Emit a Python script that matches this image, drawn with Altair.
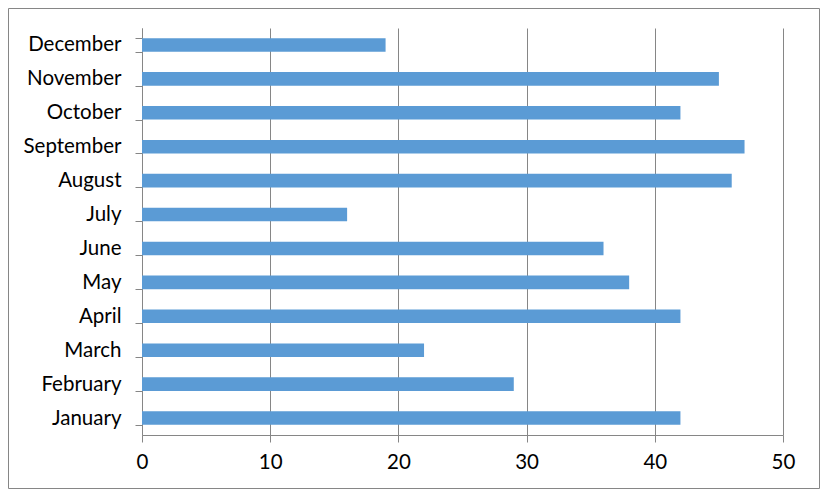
import altair as alt
import pandas as pd

months = ["January", "February", "March", "April", "May", "June",
          "July", "August", "September", "October", "November", "December"]
values = [42, 29, 22, 42, 38, 36, 16, 46, 47, 42, 45, 19]

df = pd.DataFrame({"month": months, "value": values})

W, H = 641, 407
PL, PT, PR, PB = 134, 20, 37, 54

grey = "#868686"
font = "Lato"
fs = 20.5

bars = alt.Chart(df).mark_bar(color="#5B9BD5").encode(
    x=alt.X("value:Q",
            scale=alt.Scale(domain=[0, 50], nice=False),
            axis=alt.Axis(values=[0, 10, 20, 30, 40, 50], title=None,
                          grid=True, gridColor=grey, gridWidth=1,
                          domainColor=grey, tickColor=grey, tickSize=7,
                          labelFont=font, labelFontSize=fs, labelColor="#000",
                          labelFlush=False, labelPadding=10)),
    y=alt.Y("month:N", sort=months[::-1],
            scale=alt.Scale(paddingInner=0.6, paddingOuter=0.3),
            axis=alt.Axis(title=None, tickBand="extent", domainColor=grey,
                          tickColor=grey, tickSize=7, labelFont=font,
                          labelFontSize=fs, labelColor="#000",
                          labelPadding=14)),
)

frame = alt.Chart(pd.DataFrame({"a": [0]})).mark_rect(
    fillOpacity=0, stroke=grey, strokeWidth=1
).encode(
    x=alt.value(-PL + 0.5), x2=alt.value(W + PR - 0.5),
    y=alt.value(-PT + 0.5), y2=alt.value(H + PB - 0.5),
)

chart = alt.layer(bars, frame).properties(
    width=W, height=H,
    autosize=alt.AutoSizeParams(type="none"),
    padding={"left": PL, "top": PT, "right": PR, "bottom": PB},
).configure_view(stroke=None)

chart.save("out.html", embed_options={"renderer": "svg", "actions": False})
